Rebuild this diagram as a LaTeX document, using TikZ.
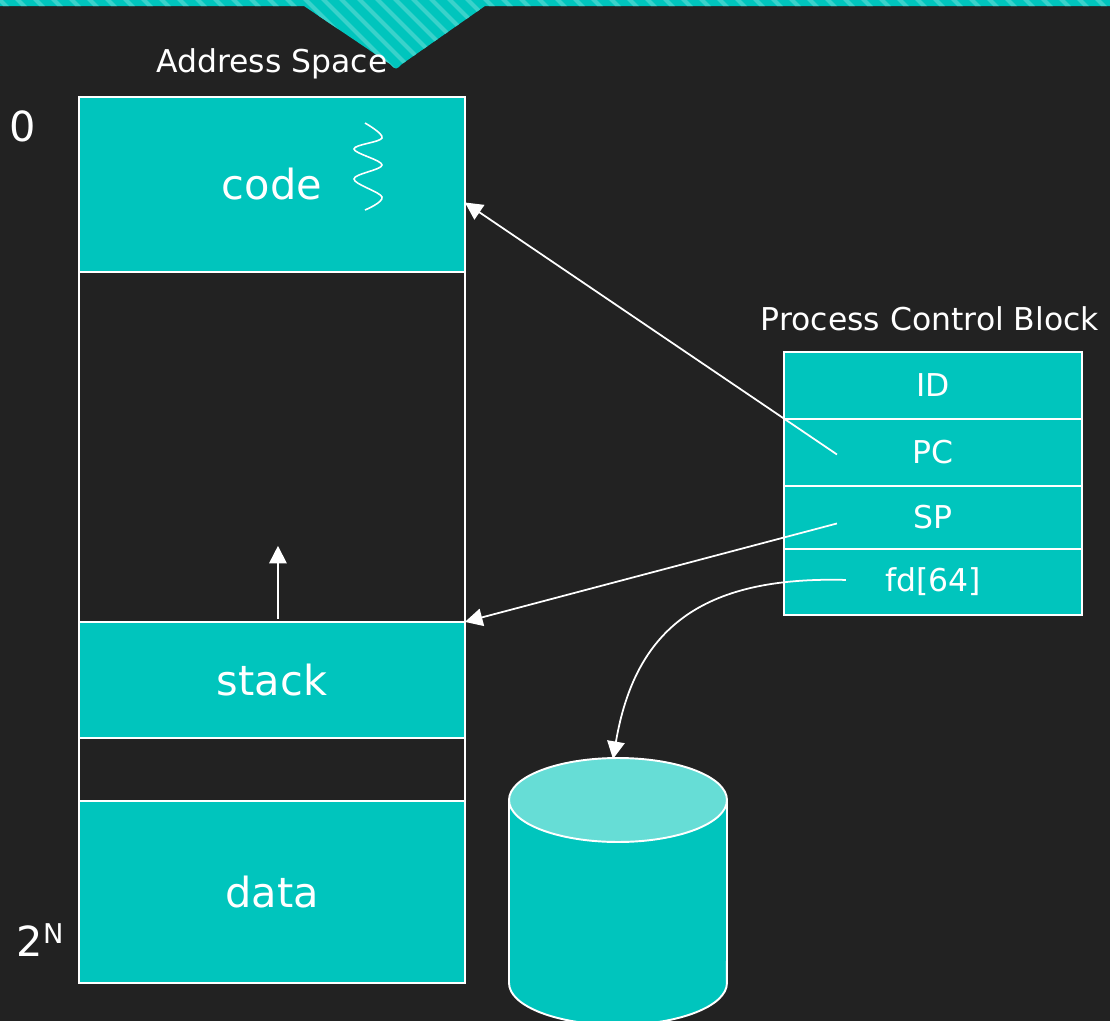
\documentclass[tikz,border=0pt]{standalone}
\usepackage{fontspec}
\setmainfont{DejaVu Sans}
\usetikzlibrary{calc,arrows.meta,positioning}
\definecolor{bg}{HTML}{222222}
\definecolor{segfill}{HTML}{00C5BD}
\definecolor{disktop}{HTML}{66DDD6}
\definecolor{stripe}{HTML}{3AD2CB}
\tikzset{
    segment/.style={
    rectangle,draw=white,fill=segfill,line width=1.1pt,minimum width=7.72cm,outer sep=0pt,text=white,font=\fontsize{23.6}{28}\selectfont
    },
    hole/.style={
    rectangle,draw=white,line width=1.1pt,minimum width=7.72cm,outer sep=0pt
    },
    pcbrow/.style={
    rectangle,draw=white,fill=segfill,line width=1.1pt,minimum width=5.96cm,outer sep=0pt,text=white,font=\fontsize{17.9}{21}\selectfont
    },
    caption/.style={
    text=white,font=\fontsize{17.9}{21}\selectfont
    },
    bound/.style={
    text=white,font=\fontsize{23.6}{28}\selectfont
    },
    ptr/.style={
    draw=white,line width=1pt,-{Triangle[width=10pt,length=10pt]}
    },
}

\begin{document}
\begin{tikzpicture}[x=0.02cm,y=-0.02cm]
   \fill[bg] (0,0) rectangle (1110,1021);
   \useasboundingbox (0,0) rectangle (1110,1021);

   % striped banner with its notch
   \begin{scope}
     \clip (-20,-20) -- (1130,-20) -- (1130,6) -- (485,6) -- (402,64)
       .. controls (396,70) .. (390,64) -- (304,6) -- (-20,6) -- cycle;
     \fill[segfill] (-20,-20) rectangle (1130,80);
     \foreach \s in {-100,-82,...,1200}
       \draw[stripe,line width=2.3pt] (\s,-10) -- ++(90,90);
   \end{scope}

   % address space
   \node[segment,minimum height=3.5cm,anchor=north west] (code) at (79,97) {code};
   \node[hole,minimum height=7cm,below=0cm of code] (heap) {};
   \node[segment,minimum height=2.32cm,below=0cm of heap] (stack) {stack};
   \node[hole,minimum height=1.26cm,below=0cm of stack] (gap) {};
   \node[segment,minimum height=3.64cm,below=0cm of gap] (data) {data};
   \node[caption] (astitle) at (272,64) {Address Space};
   \node[bound] (lo) at (23,126) {0};
   \node[bound] (hi) at (40,940) {2\raisebox{0.33em}{\fontsize{15.5}{18}\selectfont N}};

   \draw[white,line width=0.9pt] plot[smooth,tension=0.6] coordinates
     {(365,123) (382,138) (354,149) (382,165) (354,179) (382,197) (365,210)};

   % process control block
   \node[caption] (pcbtitle) at (930,319) {Process Control Block};
   \node[pcbrow,minimum height=1.34cm,anchor=north west] (id) at (784,352) {ID};
   \node[pcbrow,minimum height=1.34cm,below=0cm of id] (pc) {PC};
   \node[pcbrow,minimum height=1.26cm,below=0cm of pc] (sp) {SP};
   \node[pcbrow,minimum height=1.32cm,below=0cm of sp] (fd) {fd[64]};

   % disk
   \fill[segfill] (509,800) -- (509,983) arc[start angle=180,end angle=360,x radius=2.18cm,y radius=0.84cm] -- (727,800) -- cycle;
   \draw[white,line width=1.1pt] (509,800) -- (509,983) arc[start angle=180,end angle=360,x radius=2.18cm,y radius=0.84cm] -- (727,800);
   \draw[white,fill=disktop,line width=1.1pt] (618,800) ellipse[x radius=2.18cm,y radius=0.84cm];

   \coordinate (pcptr) at ($(pc.center)+(-96,2)$);
   \coordinate (spptr) at ($(sp.center)+(-96,6)$);
   \coordinate (fdptr) at ($(fd.center)+(-87,-2)$);
   \coordinate (codeptr) at ($(code.east)+(0,18)$);
   \coordinate (stacktop) at ($(stack.north)+(6,-3)$);
   \coordinate (growth) at ($(stack.north)+(6,-76)$);
   \coordinate (disk) at (613,759);

   \draw[ptr] (pcptr) -- (codeptr);
   \draw[ptr] (spptr) -- (heap.south east);
   \draw[ptr] (stacktop) -- (growth);
   \draw[ptr] (fdptr) .. controls (700,576) and (635,630) .. (disk);
\end{tikzpicture}
\end{document}
